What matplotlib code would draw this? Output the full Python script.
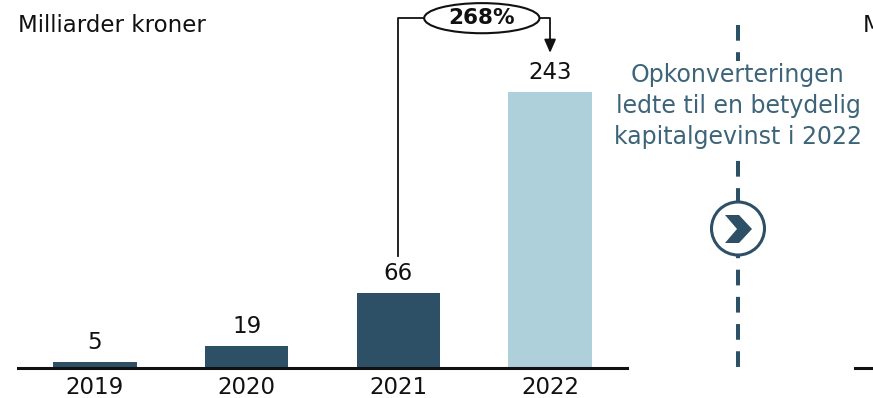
import matplotlib
matplotlib.use("Agg")
import matplotlib.pyplot as plt
from matplotlib.patches import Ellipse, Circle, Polygon

years = ["2019", "2020", "2021", "2022"]
values = [5, 19, 66, 243]
bar_colors = ["#2d5066", "#2d5066", "#2d5066", "#aed0db"]
growth_label = "268%"
unit_label = "Milliarder kroner"
note_text = "Opkonverteringen\nledte til en betydelig\nkapitalgevinst i 2022"

DARK = "#2d5066"
NOTE = "#3d6479"
FONT = "DejaVu Sans"

W, H = 873, 398
fig = plt.figure(figsize=(W / 100, H / 100), dpi=100)

# bar axes
left, right = 18 / W, 627 / W
bottom = 30 / H
ax = fig.add_axes([left, bottom, right - left, 1 - bottom])
ax.set_xlim(-0.507, 3.507)
ax.set_ylim(0, 324)
x = list(range(len(years)))
bars = ax.bar(x, values, width=0.55, color=bar_colors, zorder=2)
for xi, v in zip(x, values):
    ax.text(xi, v + 7, str(v), ha="center", va="bottom", fontsize=16.5,
            family=FONT, color="#111111")
for s in ["top", "right", "left"]:
    ax.spines[s].set_visible(False)
ax.spines["bottom"].set_linewidth(2.2)
ax.spines["bottom"].set_color("#111111")
ax.set_yticks([])
ax.set_xticks(x)
ax.set_xticklabels(years, fontsize=16.5, family=FONT, color="#111111")
ax.tick_params(axis="x", length=0, pad=6)
ax.set_facecolor("none")

# growth bracket
yb = 308
ax.plot([2, 2, 2.2], [99, yb, yb], color="#111111", lw=1.3, clip_on=False)
ax.plot([2.93, 3.0, 3.0], [yb, yb, 290], color="#111111", lw=1.3, clip_on=False)
ax.annotate("", xy=(3.0, 275), xytext=(3.0, 292),
            arrowprops=dict(arrowstyle="-|>,head_width=0.35,head_length=0.8",
                            color="#111111", lw=1.3), annotation_clip=False)
ax.add_patch(Ellipse((2.55, yb), 0.76, 26.5, facecolor="white",
                     edgecolor="#111111", lw=1.5, clip_on=False, zorder=3))
ax.text(2.55, yb, growth_label, ha="center", va="center", fontsize=15.5,
        fontweight="bold", family=FONT, color="#111111", zorder=4)

# overlay axes in pixel coords
ov = fig.add_axes([0, 0, 1, 1])
ov.set_xlim(0, W)
ov.set_ylim(H, 0)
ov.axis("off")
ov.set_facecolor("none")

fig.text(18 / W, 1 - 25 / H, unit_label, ha="left", va="center",
         fontsize=16.5, family=FONT, color="#111111")
fig.text(863 / W, 1 - 25 / H, unit_label, ha="left", va="center",
         fontsize=16.5, family=FONT, color="#111111")
ov.plot([855, 873], [368, 368], color="#111111", lw=2.2)

cx, cy = 738, 228.5
ov.plot([cx, cx], [25, 378], color=DARK, lw=2.9, dashes=(3.9, 2.85),
        solid_capstyle="butt", dash_capstyle="butt")
ov.add_patch(Circle((cx, cy), 26.5, facecolor="white", edgecolor=DARK, lw=2.2, zorder=3))
ov.add_patch(Polygon([(725, 215), (739, 215), (752, 229), (739, 243), (725, 243), (737, 229)],
                     closed=True, facecolor=DARK, edgecolor="none", zorder=4))
ov.text(cx, 106, note_text, ha="center", va="center", fontsize=17, family=FONT,
        color=NOTE, linespacing=1.38, zorder=4,
        bbox=dict(facecolor="white", edgecolor="none", pad=1))

fig.savefig("out.png", dpi=100)
